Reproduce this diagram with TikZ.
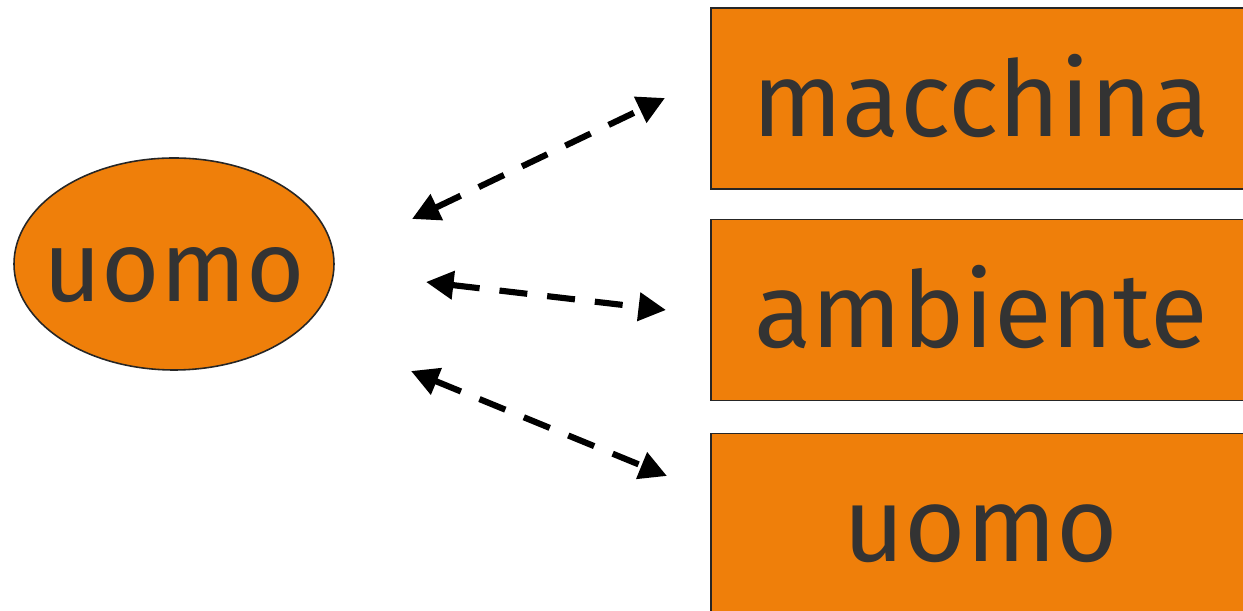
\documentclass[tikz,border=0pt]{standalone}
\usepackage{fontspec}
\setmainfont{Fira Sans}
\usepackage{tikz}
\usetikzlibrary{positioning, arrows.meta, shapes.geometric}

\definecolor{boxorange}{HTML}{EF7F0A}
\definecolor{inkgray}{HTML}{333333}

\begin{document}
\begin{tikzpicture}[
    txt/.style={text=inkgray, font=\fontsize{60}{72}\selectfont, text height=1.52cm, text depth=0pt, inner sep=0pt},
    ell/.style={fill=boxorange, draw=black!85, line width=0.9pt, ellipse, minimum width=6.4cm, minimum height=4.24cm, inner sep=0pt},
    box/.style={txt, fill=boxorange, draw=black!85, line width=0.9pt, rectangle, minimum width=10.8cm, minimum height=3.62cm},
    link/.style={{Triangle[length=5.5mm, width=5.5mm]}-{Triangle[length=5.5mm, width=5.5mm]},
        line width=3.5pt, dash pattern=on 0.56cm off 0.4cm}
]

    % Frame of the picture
    \useasboundingbox (0, 0) rectangle (24.86, 12.22);
    \clip (0, 0) rectangle (24.86, 12.22);

    % Left ellipse
    \node[ell] (uomo) at (3.48, 6.94) {};
    \node[txt, font=\fontsize{57}{68}\selectfont] (uomoText) at (uomo) {uomo};

    % Right boxes (cut by the right edge)
    \node[box] (macchina) at (19.62, 10.25) {macchina};
    \node[box] (ambiente) at (19.62, 6.02) {ambiente};
    \node[box] (uomoR) at (19.62, 1.74) {uomo};

    % Free ends of the arrows
    \coordinate (a1s) at (8.24, 7.84);
    \coordinate (a1e) at (13.30, 10.26);
    \coordinate (a2s) at (8.52, 6.58);
    \coordinate (a2e) at (13.32, 6.02);
    \coordinate (a3s) at (8.22, 4.80);
    \coordinate (a3e) at (13.34, 2.70);

    % Double arrows
    \draw[link] (a1s) -- (a1e);
    \draw[link] (a2s) -- (a2e);
    \draw[link] (a3s) -- (a3e);

\end{tikzpicture}
\end{document}
